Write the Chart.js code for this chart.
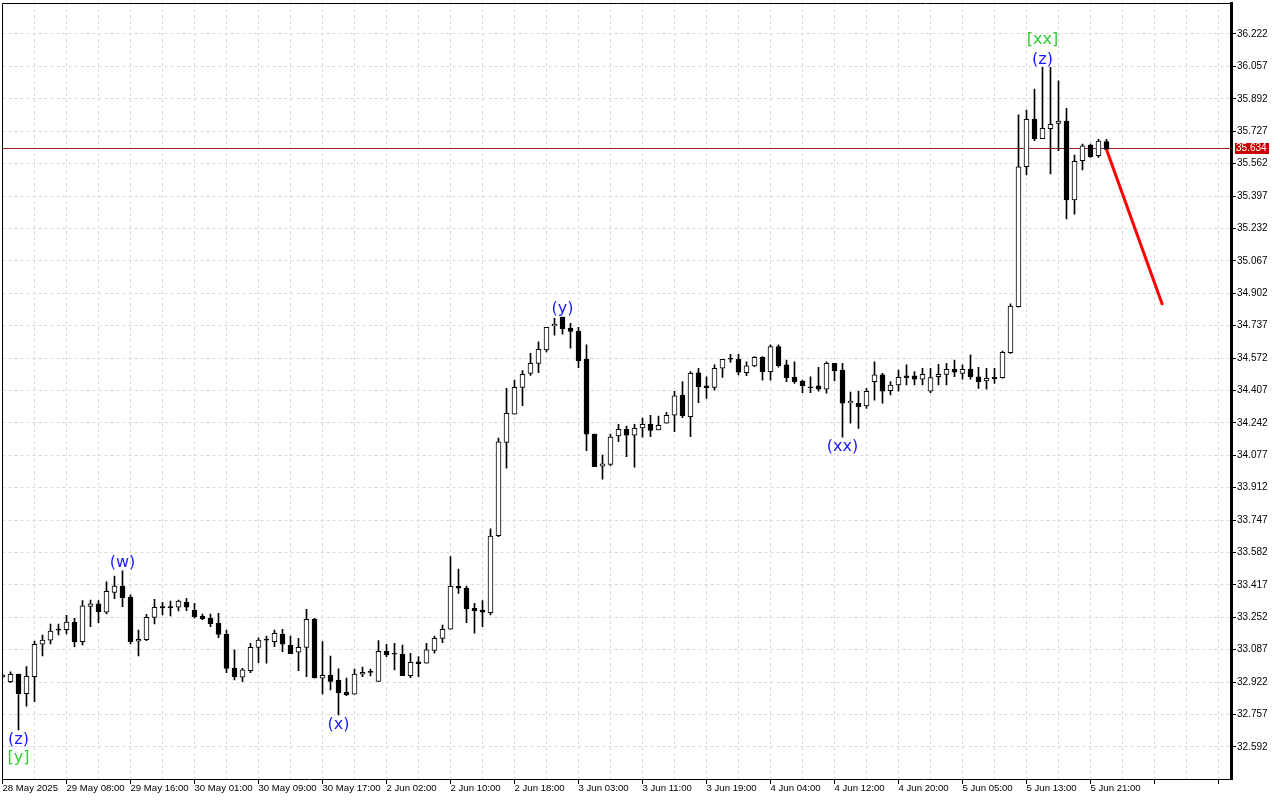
<!DOCTYPE html>
<html><head><meta charset="utf-8">
<script src="https://cdn.jsdelivr.net/npm/chart.js@4.4.1/dist/chart.umd.min.js"></script>
<style>html,body{margin:0;padding:0;background:#fff;overflow:hidden}canvas{display:block}</style>
</head><body>
<canvas id="c" width="1280" height="800"></canvas>
<script>
// ---- data (hourly candles, bar index 0..138) ----
const opens = [32.948,32.924,32.962,32.863,32.950,33.115,33.136,33.187,33.189,33.228,
33.128,33.308,33.320,33.278,33.379,33.411,33.355,33.130,33.138,33.252,
33.301,33.301,33.303,33.328,33.288,33.257,33.247,33.221,33.165,32.992,
32.947,32.980,33.099,33.136,33.128,33.165,33.110,33.074,33.099,33.242,
32.942,32.957,32.933,32.870,32.860,32.962,32.972,32.926,33.079,33.064,
33.064,32.955,33.025,33.018,33.084,33.145,33.191,33.410,33.400,33.298,
33.289,33.275,33.668,34.143,34.286,34.423,34.494,34.545,34.613,34.735,
34.780,34.724,34.708,34.567,34.185,34.022,34.031,34.175,34.209,34.179,
34.216,34.235,34.206,34.240,34.281,34.382,34.274,34.497,34.431,34.423,
34.520,34.566,34.566,34.497,34.532,34.576,34.503,34.630,34.537,34.474,
34.455,34.426,34.430,34.413,34.545,34.511,34.343,34.342,34.328,34.452,
34.486,34.406,34.435,34.481,34.481,34.464,34.403,34.477,34.489,34.515,
34.494,34.516,34.477,34.455,34.474,34.472,34.599,34.834,35.546,35.788,
35.689,35.740,35.767,35.779,35.377,35.577,35.657,35.602,35.674];
const highs = [32.963,32.975,32.963,33.001,33.131,33.162,33.218,33.218,33.262,33.247,
33.337,33.340,33.337,33.432,33.462,33.488,33.366,33.187,33.267,33.344,
33.328,33.335,33.340,33.349,33.323,33.269,33.269,33.272,33.187,33.086,
32.992,33.120,33.148,33.157,33.187,33.191,33.157,33.145,33.293,33.247,
33.128,33.055,32.990,32.942,32.989,32.999,32.989,33.133,33.115,33.120,
33.111,33.069,33.052,33.120,33.157,33.213,33.561,33.498,33.411,33.323,
33.337,33.702,34.164,34.418,34.460,34.508,34.596,34.654,34.729,34.774,
34.780,34.749,34.729,34.639,34.185,34.078,34.185,34.235,34.226,34.235,
34.267,34.281,34.277,34.296,34.403,34.452,34.503,34.520,34.477,34.537,
34.566,34.591,34.591,34.553,34.579,34.579,34.639,34.639,34.562,34.553,
34.460,34.477,34.525,34.553,34.545,34.545,34.399,34.404,34.418,34.553,
34.494,34.452,34.511,34.537,34.503,34.520,34.520,34.540,34.545,34.562,
34.537,34.588,34.525,34.520,34.520,34.608,34.848,35.810,35.835,35.942,
36.052,36.052,35.983,35.844,35.606,35.662,35.662,35.686,35.686];
const lows = [32.943,32.919,32.678,32.800,32.822,33.055,33.116,33.162,33.167,33.102,
33.111,33.204,33.225,33.269,33.347,33.306,33.116,33.055,33.133,33.218,
33.264,33.259,33.284,33.286,33.247,33.240,33.204,33.148,32.970,32.933,
32.924,32.970,33.021,33.018,33.102,33.077,33.067,32.980,32.950,32.942,
32.862,32.882,32.755,32.853,32.860,32.950,32.953,32.926,33.052,32.984,
32.955,32.945,32.950,33.018,33.069,33.123,33.191,33.374,33.225,33.171,
33.204,33.264,33.662,34.011,34.286,34.329,34.484,34.497,34.603,34.689,
34.693,34.622,34.523,34.100,34.019,33.955,34.024,34.146,34.070,34.016,
34.169,34.172,34.206,34.240,34.197,34.268,34.172,34.345,34.367,34.409,
34.474,34.550,34.486,34.482,34.528,34.460,34.460,34.525,34.452,34.443,
34.396,34.396,34.403,34.393,34.457,34.169,34.240,34.214,34.316,34.358,
34.342,34.384,34.403,34.435,34.435,34.435,34.396,34.435,34.435,34.477,
34.464,34.464,34.418,34.413,34.443,34.469,34.596,34.831,35.504,35.679,
35.689,35.509,35.628,35.280,35.304,35.530,35.594,35.594,35.634];
const closes = [32.958,32.962,32.863,32.952,33.115,33.136,33.182,33.187,33.228,33.128,
33.310,33.320,33.281,33.384,33.411,33.352,33.128,33.140,33.252,33.303,
33.301,33.301,33.334,33.303,33.255,33.245,33.219,33.165,32.992,32.950,
32.984,33.099,33.136,33.136,33.171,33.115,33.067,33.099,33.242,32.945,
32.957,32.926,32.868,32.858,32.963,32.972,32.972,33.079,33.060,33.064,
32.955,33.023,33.016,33.086,33.145,33.191,33.410,33.400,33.296,33.286,
33.278,33.666,34.146,34.291,34.423,34.489,34.545,34.617,34.729,34.745,
34.721,34.708,34.559,34.184,34.019,34.033,34.169,34.209,34.179,34.214,
34.235,34.204,34.230,34.281,34.380,34.279,34.494,34.426,34.421,34.520,
34.566,34.566,34.500,34.532,34.576,34.503,34.630,34.533,34.472,34.452,
34.430,34.421,34.413,34.545,34.508,34.342,34.353,34.324,34.403,34.486,
34.403,34.435,34.474,34.472,34.464,34.489,34.472,34.489,34.515,34.500,
34.515,34.477,34.452,34.469,34.467,34.601,34.837,35.546,35.788,35.689,
35.742,35.762,35.779,35.377,35.574,35.652,35.597,35.677,35.634];

const dateLabels = ["28 May 2025","29 May 08:00","29 May 16:00","30 May 01:00","30 May 09:00",
"30 May 17:00","2 Jun 02:00","2 Jun 10:00","2 Jun 18:00","3 Jun 03:00","3 Jun 11:00",
"3 Jun 19:00","4 Jun 04:00","4 Jun 12:00","4 Jun 20:00","5 Jun 05:00","5 Jun 13:00","5 Jun 21:00"];
const barsPerDateLabel = 8;
const barsPerGridLine = 4;

const priceTicks = [32.592,32.757,32.922,33.087,33.252,33.417,33.582,33.747,33.912,34.077,
34.242,34.407,34.572,34.737,34.902,35.067,35.232,35.397,35.562,35.727,35.892,36.057,36.222];
const priceMin = 32.4287, priceMax = 36.3798;
const barMax = 153.5625;

const currentPrice = 35.634;
const forecastBars = [138, 145];
const forecastPrices = [35.634, 34.842];

const waveTexts  = ["(z)", "[y]", "(w)", "(x)", "(y)", "(xx)", "(z)", "[xx]"];
const waveBars   = [2, 2, 15, 42, 70, 105, 130, 130];
const waveSides  = ["low","low","high","low","high","low","high","high"];
const waveRows   = [0, 1, 0, 0, 0, 0, 0, 1];
const waveColors = ["#1a1aff","#33cc33","#1a1aff","#1a1aff","#1a1aff","#1a1aff","#1a1aff","#33cc33"];

// ---- chart ----
Chart.defaults.font.family = '"Liberation Sans", Arial, sans-serif';

const overlay = {
  id: 'overlay',
  beforeDatasetsDraw(chart) {
    const {ctx, chartArea: a, scales: {y}} = chart;
    const py = Math.round(y.getPixelForValue(currentPrice)) - 0.5;
    ctx.save();
    ctx.strokeStyle = '#9a2020'; ctx.lineWidth = 1;
    ctx.beginPath(); ctx.moveTo(a.left, py); ctx.lineTo(a.right, py); ctx.stroke();
    ctx.restore();
  },
  afterDraw(chart) {
    const {ctx, chartArea: a, scales: {x, y}} = chart;
    ctx.save();
    ctx.strokeStyle = '#000'; ctx.lineWidth = 1;
    ctx.beginPath();
    ctx.moveTo(Math.floor(a.left) + 0.5, Math.floor(a.bottom) + 0.5);
    ctx.lineTo(Math.floor(a.left) + 0.5, Math.floor(a.top) + 0.5);
    ctx.lineTo(a.right + 2, Math.floor(a.top) + 0.5);
    ctx.stroke();
    // current price tag
    const py = y.getPixelForValue(currentPrice);
    ctx.fillStyle = '#c80000';
    ctx.fillRect(a.right + 4, Math.round(py) - 6, 34, 11);
    ctx.fillStyle = '#fff';
    ctx.font = '10px "Liberation Sans", Arial, sans-serif';
    ctx.textAlign = 'left'; ctx.textBaseline = 'middle';
    ctx.fillText(currentPrice.toFixed(3), a.right + 5, Math.round(py) - 0.5);
    // wave labels
    ctx.font = '16px "DejaVu Sans", sans-serif';
    ctx.textAlign = 'center'; ctx.textBaseline = 'middle';
    waveTexts.forEach((t, i) => {
      const b = waveBars[i];
      const below = waveSides[i] === 'low';
      const anchor = y.getPixelForValue(below ? lows[b] : highs[b]);
      const off = below ? (9.5 + 18.5 * waveRows[i]) : -(8 + 19.5 * waveRows[i]);
      ctx.fillStyle = waveColors[i];
      ctx.fillText(t, x.getPixelForValue(b), anchor + off);
    });
    ctx.restore();
  }
};

const bodies = opens.map((o, i) => ({x: i, y: [o, closes[i]]}));
const wicks = lows.map((l, i) => ({x: i, y: [l, highs[i]]}));
const bodyColors = closes.map((c, i) => c > opens[i] ? '#ffffff' : '#000000');

new Chart(document.getElementById('c'), {
  type: 'bar',
  data: {
    datasets: [
      {type: 'line', data: forecastBars.map((b, i) => ({x: b, y: forecastPrices[i]})),
       borderColor: '#ff0000', borderWidth: 3, pointRadius: 0, tension: 0, order: -1},
      {data: bodies, backgroundColor: bodyColors, borderColor: '#000', borderWidth: 1,
       borderSkipped: false, barThickness: 5, maxBarThickness: 5, grouped: false, minBarLength: 1, order: 0},
      {data: wicks, backgroundColor: '#000', borderWidth: 0, barThickness: 1, maxBarThickness: 1,
       grouped: false, minBarLength: 1, order: 1}
    ]
  },
  options: {
    responsive: false, animation: false, devicePixelRatio: 1,
    layout: {padding: {left: 2.5, top: 3, right: 0, bottom: 0}},
    plugins: {legend: {display: false}, tooltip: {enabled: false}},
    scales: {
      x: {
        type: 'linear', min: 0, max: barMax, offset: false,
        afterBuildTicks: s => { const t = []; for (let v = 0; v <= barMax; v += barsPerGridLine) t.push({value: v}); s.ticks = t; },
        afterFit: s => { s.height = 21; s.paddingLeft = 0; s.paddingRight = 0; s.paddingTop = 0; s.paddingBottom = 0; },
        grid: {offset: false, color: '#dadada', lineWidth: 1, drawTicks: true, tickLength: 5,
               tickColor: c => (c.tick && c.tick.value % barsPerDateLabel === 0) ? '#000' : 'rgba(0,0,0,0)'},
        border: {display: true, color: '#000', width: 1, dash: [3, 3]},
        ticks: {autoSkip: false, maxRotation: 0, minRotation: 0, align: 'start', padding: 0, color: '#000',
                font: {size: 9.6, lineHeight: 1},
                callback: v => v % barsPerDateLabel === 0 ? (dateLabels[v / barsPerDateLabel] || '') : ''}
      },
      y: {
        position: 'right', min: priceMin, max: priceMax,
        afterBuildTicks: s => { s.ticks = priceTicks.map(v => ({value: v})); },
        afterFit: s => { s.width = 49; s.paddingTop = 0; s.paddingBottom = 0; s.paddingLeft = 0; s.paddingRight = 0; },
        grid: {color: '#dadada', lineWidth: 1, drawTicks: true, tickLength: 5, tickColor: '#000'},
        border: {display: true, color: '#000', width: 3, dash: [3, 3]},
        ticks: {padding: 1, color: '#000', font: {size: 10}, callback: v => Number(v).toFixed(3)}
      }
    }
  },
  plugins: [overlay]
});
</script>
</body></html>
